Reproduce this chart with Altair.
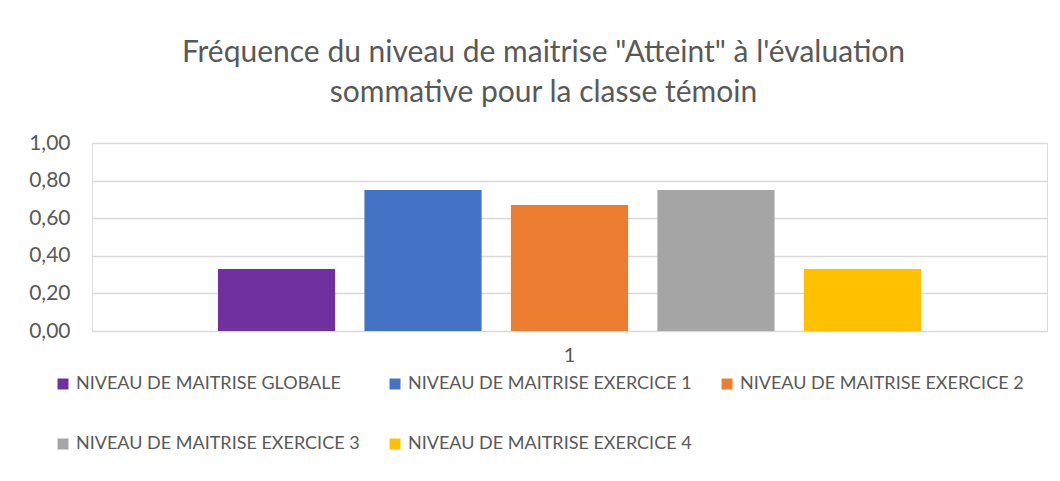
import altair as alt
import pandas as pd

series = [
    "NIVEAU DE MAITRISE GLOBALE",
    "NIVEAU DE MAITRISE EXERCICE 1",
    "NIVEAU DE MAITRISE EXERCICE 2",
    "NIVEAU DE MAITRISE EXERCICE 3",
    "NIVEAU DE MAITRISE EXERCICE 4",
]
values = [0.33, 0.75, 0.67, 0.75, 0.33]
category = ["1"] * 5
colors = ["#7030A0", "#4472C4", "#ED7D31", "#A5A5A5", "#FFC000"]
y_ticks = [0.0, 0.2, 0.4, 0.6, 0.8, 1.0]

df = pd.DataFrame({"cat": category, "serie": series, "val": values})

FONT = "Lato"
TXT = "#595959"

chart = (
    alt.Chart(df)
    .mark_bar()
    .encode(
        x=alt.X(
            "cat:N",
            title=None,
            scale=alt.Scale(paddingInner=0, paddingOuter=0.152),
            axis=alt.Axis(
                labelAngle=0,
                labelFontSize=20,
                labelColor=TXT,
                labelFont=FONT,
                ticks=False,
                domain=False,
                grid=False,
                labelPadding=14,
            ),
        ),
        xOffset=alt.XOffset(
            "serie:N",
            sort=series,
            scale=alt.Scale(paddingInner=0.2, paddingOuter=0.1),
        ),
        y=alt.Y(
            "val:Q",
            title=None,
            scale=alt.Scale(domain=[0, 1], nice=False),
            axis=alt.Axis(
                values=y_ticks,
                labelExpr="replace(format(datum.value, '.2f'), '.', ',')",
                labelFontSize=21,
                labelColor=TXT,
                labelFont=FONT,
                ticks=False,
                domain=False,
                labelPadding=22,
                gridColor="#D9D9D9",
                gridWidth=1.5,
            ),
        ),
        color=alt.Color(
            "serie:N",
            sort=series,
            scale=alt.Scale(domain=series, range=colors),
            legend=alt.Legend(
                title=None,
                orient="none",
                legendX=-38,
                legendY=232,
                direction="horizontal",
                columns=3,
                symbolType="square",
                symbolSize=120,
                symbolStrokeWidth=0,
                symbolOpacity=1,
                labelFontSize=18,
                labelFont=FONT,
                labelColor=TXT,
                labelLimit=400,
                gridAlign="all",
                columnPadding=26,
                rowPadding=42,
                labelOffset=4,
            ),
        ),
    )
    .properties(
        width=955,
        height=188,
        padding={"left": 20, "top": 30, "right": 5, "bottom": 5},
        title=alt.TitleParams(
            text=[
                "Fréquence du niveau de maitrise \"Atteint\" à l'évaluation",
                "sommative pour la classe témoin",
            ],
            fontSize=30,
            font=FONT,
            fontWeight="normal",
            color=TXT,
            anchor="middle",
            lineHeight=40,
            offset=24,
            dx=-26,
        ),
    )
    .configure_view(stroke=None)
    .configure(background="white")
)

chart.save("out.html", embed_options={"renderer": "svg", "actions": False})
